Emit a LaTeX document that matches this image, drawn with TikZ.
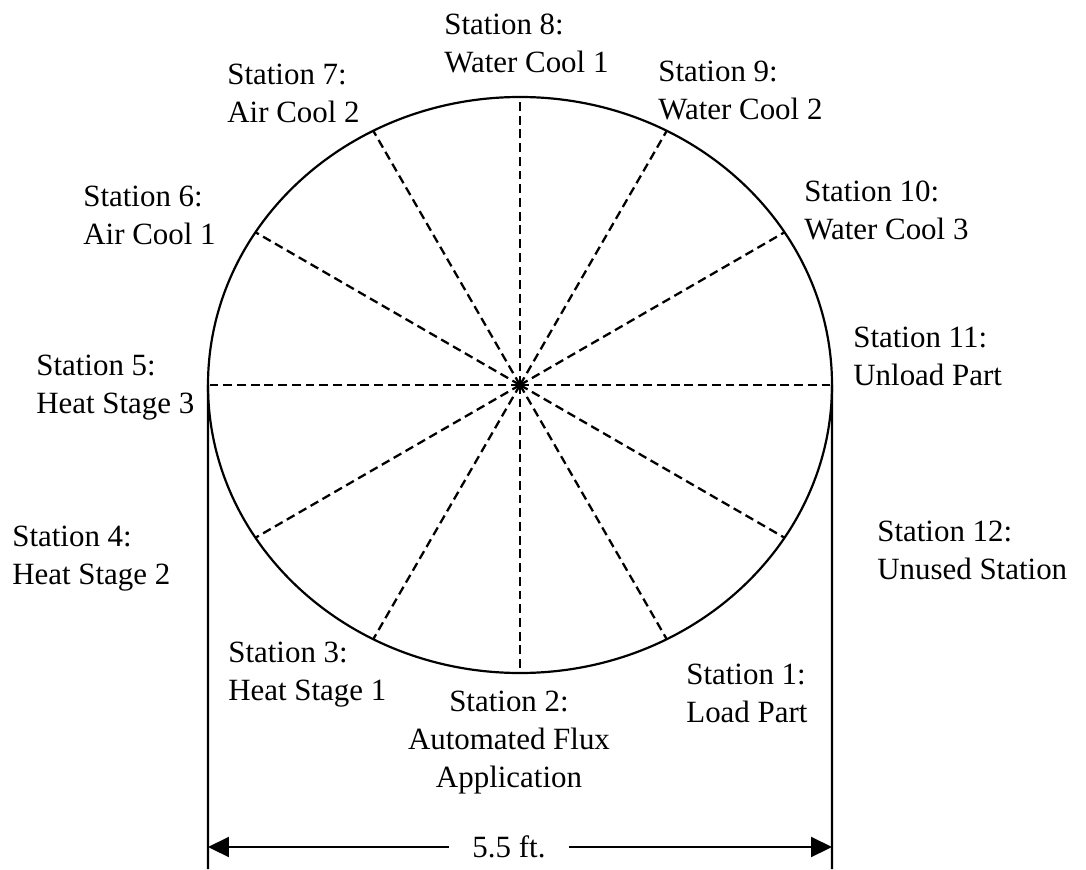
\documentclass[tikz,border=0pt]{standalone}
\usepackage{fontspec}
\setmainfont{Liberation Serif}
\usepackage{tikz}
\usetikzlibrary{shapes.geometric,arrows.meta}

\begin{document}
\begin{tikzpicture}[
    station/.style={anchor=north west, align=left, inner sep=0pt, font=\fontsize{17.6}{21.6}\selectfont},
    spoke/.style={dash pattern=on 5pt off 2.8pt, line width=1.3pt},
    dimline/.style={line width=1.2pt}]
    \useasboundingbox (-10.4, -9.68) rectangle (11.32, 7.7);
    \node[draw, ellipse, line width=1.25pt, minimum width=12.48cm, minimum height=11.52cm, inner sep=0pt, outer sep=0pt] (plate) at (0, 0) {};
    \foreach \a in {0,30,...,330}
        \draw [spoke] (plate.center) -- (plate.\a);

    \node[station] (s1) at (3.32, -5.58) {Station 1:\\Load Part};
    \node[station, anchor=north, align=center] (s2) at (-0.22, -6.12) {Station 2:\\Automated Flux\\Application};
    \node[station] (s3) at (-5.84, -5.14) {Station 3:\\Heat Stage 1};
    \node[station] (s4) at (-10.16, -2.82) {Station 4:\\Heat Stage 2};
    \node[station] (s5) at (-9.68, 0.60) {Station 5:\\Heat Stage 3};
    \node[station] (s6) at (-8.74, 3.98) {Station 6:\\Air Cool 1};
    \node[station] (s7) at (-5.86, 6.42) {Station 7:\\Air Cool 2};
    \node[station] (s8) at (-1.52, 7.42) {Station 8:\\Water Cool 1};
    \node[station] (s9) at (2.76, 6.48) {Station 9:\\Water Cool 2};
    \node[station] (s10) at (5.68, 4.08) {Station 10:\\Water Cool 3};
    \node[station] (s11) at (6.66, 1.16) {Station 11:\\Unload Part};
    \node[station] (s12) at (7.14, -2.72) {Station 12:\\Unused Station};

    \coordinate (baseL) at (-6.24, -9.68);
    \coordinate (baseR) at (6.24, -9.68);
    \coordinate (dimL) at (-6.24, -9.24);
    \coordinate (dimR) at (6.24, -9.24);
    \draw [dimline] (plate.west) -- (baseL);
    \draw [dimline] (plate.east) -- (baseR);
    \node[font=\fontsize{17.6}{21.6}\selectfont, inner xsep=0.46cm, inner ysep=0pt] (span) at (-0.22, -9.24) {5.5 ft.};
    \draw [dimline, -{Triangle[length=0.42cm, width=0.4cm]}] (span) -- (dimL);
    \draw [dimline, -{Triangle[length=0.42cm, width=0.4cm]}] (span) -- (dimR);
\end{tikzpicture}
\end{document}
